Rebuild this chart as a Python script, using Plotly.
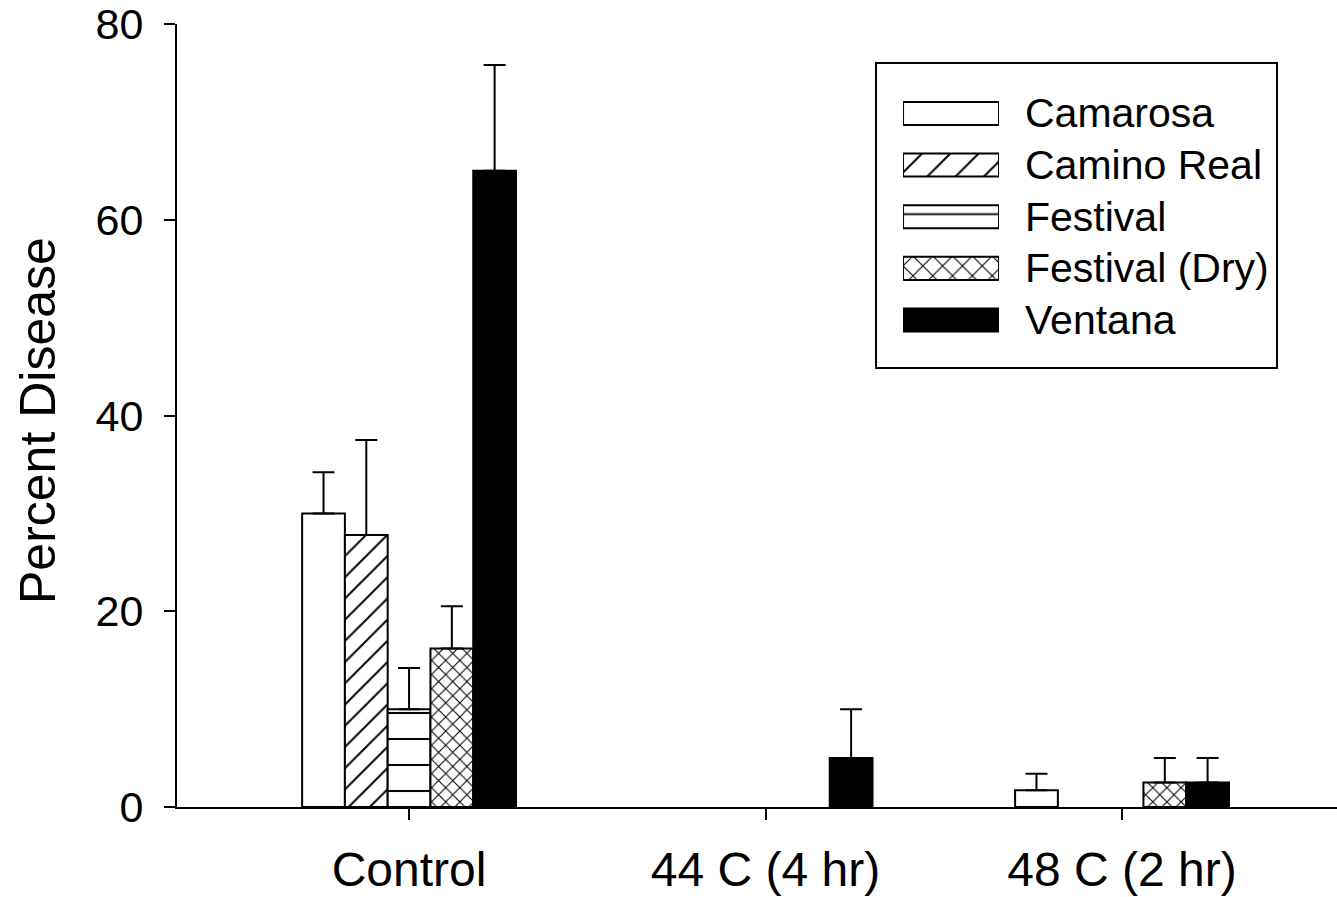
import plotly.graph_objects as go

# ---- data ----
categories = ["Control", "44 C (4 hr)", "48 C (2 hr)"]
series_names = ["Camarosa", "Camino Real", "Festival", "Festival (Dry)", "Ventana"]

camarosa = [30.0, 0.0, 1.7]
camarosa_err = [4.2, None, 1.7]
camino_real = [27.8, 0.0, 0.0]
camino_real_err = [9.7, None, None]
festival = [10.0, 0.0, 0.0]
festival_err = [4.2, None, None]
festival_dry = [16.2, 0.0, 2.5]
festival_dry_err = [4.3, None, 2.5]
ventana = [65.0, 5.0, 2.5]
ventana_err = [10.8, 5.0, 2.5]

y_ticks = [0, 20, 40, 60, 80]
y_title = "Percent Disease"

values = [camarosa, camino_real, festival, festival_dry, ventana]
errors = [camarosa_err, camino_real_err, festival_err, festival_dry_err, ventana_err]

# ---- styles ----
FONT = "Liberation Sans, Arial, sans-serif"
fills = ["white", "white", "white", "white", "black"]
shapes = ["", "/", "-", "x", ""]
psizes = [10, 15, 26, 10, 10]
psolid = [0.1, 0.13, 0.08, 0.2, 0.1]
leg_psizes = [10, 20, 23, 14, 10]
leg_psolid = [0.1, 0.1, 0.08, 0.15, 0.1]

fig = go.Figure()
for name, vals, errs, fc, sh, ps, so in zip(series_names, values, errors, fills, shapes, psizes, psolid):
    outline_w = [2 if v > 0 else 0 for v in vals]
    # missing error values -> "NaN" so plotly.js draws no error bar there
    err_plus = [e if e is not None else "NaN" for e in errs]
    err_minus = [0 if e is not None else "NaN" for e in errs]
    fig.add_trace(go.Bar(
        name=name, x=categories, y=vals, offsetgroup=name,
        marker=dict(color=fc, line=dict(color="black", width=outline_w),
                    pattern=dict(shape=sh, size=ps, solidity=so, fgcolor="black", bgcolor=fc, fillmode="replace")),
        error_y=dict(type="data", array=err_plus, arrayminus=err_minus, symmetric=False,
                     color="black", thickness=2, width=11),
        showlegend=False,
    ))

# ---- legend drawn as small bars on their own axes ----
leg_rows = list(range(len(series_names)))
for r, name, fc, sh, ps, so in zip(leg_rows, series_names, fills, shapes, leg_psizes, leg_psolid):
    fig.add_trace(go.Bar(
        orientation="h", y=[r], x=[1], base=0, width=0.446, offset=-0.223,
        xaxis="x2", yaxis="y2", showlegend=False, hoverinfo="skip", name=name,
        marker=dict(color=fc, line=dict(color="black", width=2),
                    pattern=dict(shape=sh, size=ps, solidity=so,
                                 fgcolor="black", bgcolor=fc, fillmode="replace")),
    ))

annotations = []
for r, name in zip(leg_rows, series_names):
    annotations.append(dict(text=name, xref="paper", yref="y2", x=0.7293, y=r,
                            xanchor="left", yanchor="middle", showarrow=False,
                            font=dict(family=FONT, size=41, color="black")))
annotations.append(dict(text=y_title, xref="paper", yref="paper", x=-0.1198, y=0.493,
                        xanchor="center", yanchor="middle", textangle=-90, showarrow=False,
                        font=dict(family=FONT, size=50, color="black")))

fig.update_layout(
    width=1337, height=897,
    margin=dict(l=177, r=0, t=24, b=90, pad=0, autoexpand=False),
    paper_bgcolor="white", plot_bgcolor="white",
    barmode="group", bargap=0.4, bargroupgap=0,
    font=dict(family=FONT, color="black"),
    xaxis=dict(type="category", categoryorder="array", categoryarray=categories,
               range=[-0.651, 2.603], showline=True, linewidth=2, linecolor="black",
               ticks="outside", ticklen=11, tickwidth=2, tickcolor="black",
               tickfont=dict(size=48, family=FONT, color="black"), automargin=False,
               showgrid=False, zeroline=False, ticklabelstandoff=8),
    yaxis=dict(range=[0, 80], tickvals=y_ticks, showline=True, linewidth=2, linecolor="black",
               ticks="outside", ticklen=11, tickwidth=2, tickcolor="black",
               tickfont=dict(size=43, family=FONT, color="black"), automargin=False,
               ticklabeloverflow="allow",
               showgrid=False, zeroline=False, ticklabelstandoff=12),
    xaxis2=dict(domain=[0.6259, 0.7086], range=[0, 1], visible=False, anchor="y2", fixedrange=True),
    yaxis2=dict(domain=[0.589, 0.9187], range=[4.5, -0.5], visible=False, anchor="x2", fixedrange=True),
    annotations=annotations,
    shapes=[dict(type="rect", xref="paper", yref="paper", x0=0.6026, x1=0.9483, y0=0.5607, y1=0.9502,
                 line=dict(color="black", width=2), fillcolor="rgba(0,0,0,0)")],
)

fig.write_html("out.html")
